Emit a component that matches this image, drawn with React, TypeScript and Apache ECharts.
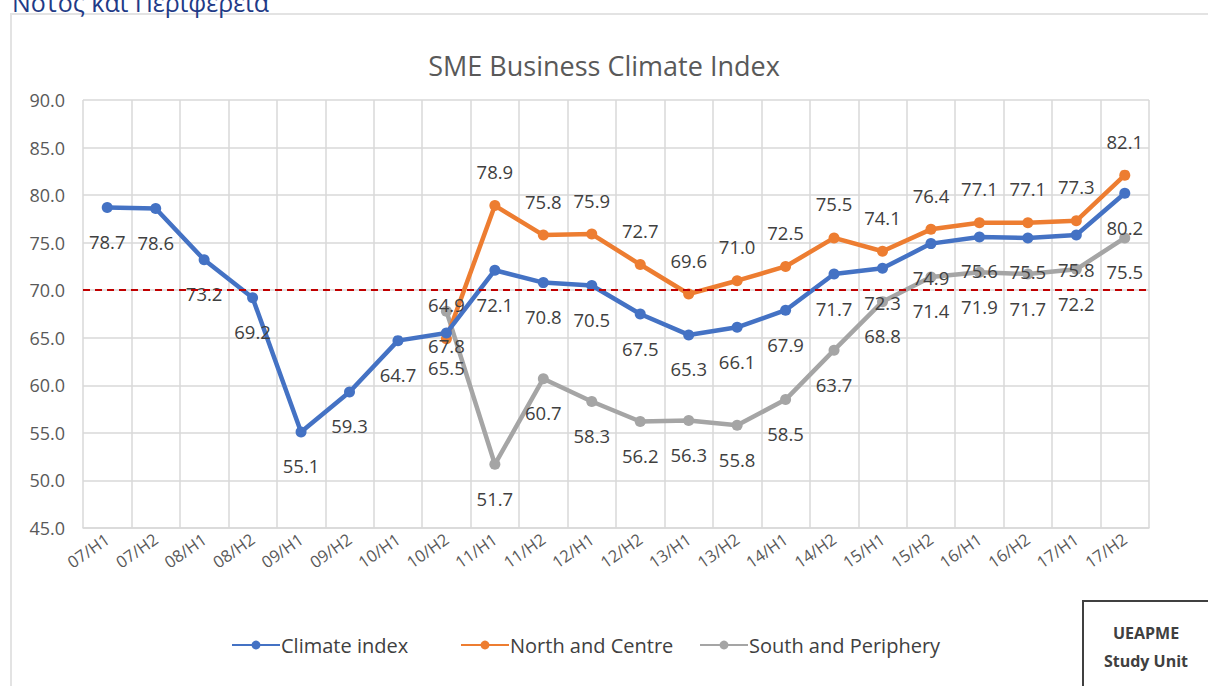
import React, { useEffect, useRef } from "react";
import * as echarts from "echarts";

const categories = ["07/H1","07/H2","08/H1","08/H2","09/H1","09/H2","10/H1","10/H2","11/H1","11/H2","12/H1","12/H2","13/H1","13/H2","14/H1","14/H2","15/H1","15/H2","16/H1","16/H2","17/H1","17/H2"];
const climateIndex = [78.7,78.6,73.2,69.2,55.1,59.3,64.7,65.5,72.1,70.8,70.5,67.5,65.3,66.1,67.9,71.7,72.3,74.9,75.6,75.5,75.8,80.2];
const northCentre = [null,null,null,null,null,null,null,64.9,78.9,75.8,75.9,72.7,69.6,71.0,72.5,75.5,74.1,76.4,77.1,77.1,77.3,82.1];
const southPeriphery = [null,null,null,null,null,null,null,67.8,51.7,60.7,58.3,56.2,56.3,55.8,58.5,63.7,68.8,71.4,71.9,71.7,72.2,75.5];
const seriesNames = ["Climate index", "North and Centre", "South and Periphery"];
const threshold = 70;

const FONT = "'Open Sans', 'Noto Sans', sans-serif";

export default function App() {
  const ref = useRef<HTMLDivElement>(null);
  useEffect(() => {
    if (!ref.current) return;
    const chart = echarts.init(ref.current, null, { renderer: "svg" });
    const lbl = (pos: string) => ({
      show: true,
      position: pos,
      distance: 19,
      fontSize: 18.5,
      fontFamily: FONT,
      color: "#404040",
      formatter: (p: any) => (p.value == null ? "" : Number(p.value).toFixed(1)),
    });
    const mk = (name: string, data: any[], color: string, pos: string, extra: any = {}) => ({
      name,
      type: "line",
      data,
      symbol: "circle",
      symbolSize: 11,
      itemStyle: { color },
      lineStyle: { color, width: 4.5 },
      label: lbl(pos),
      ...extra,
    });
    const legendLefts = [226, 455, 694];
    chart.setOption({
      animation: false,
      backgroundColor: "#ffffff",
      textStyle: { fontFamily: FONT },
      title: {
        text: "SME Business Climate Index",
        left: "center",
        top: 47,
        textStyle: { fontSize: 27, fontWeight: "normal", color: "#595959", fontFamily: FONT },
      },
      grid: { left: 83, right: 59, top: 100, bottom: 158, containLabel: false },
      xAxis: {
        type: "category",
        data: categories,
        boundaryGap: true,
        axisLine: { lineStyle: { color: "#d9d9d9", width: 1.5 } },
        axisTick: { show: false },
        splitLine: { show: true, interval: 0, lineStyle: { color: "#d9d9d9", width: 1.5 } },
        axisLabel: { rotate: 35, interval: 0, margin: 9, fontSize: 16.5, color: "#595959", fontFamily: FONT },
      },
      yAxis: {
        type: "value",
        min: 45,
        max: 90,
        interval: 5,
        axisLine: { show: false },
        axisTick: { show: false },
        splitLine: { lineStyle: { color: "#d9d9d9", width: 1.5 } },
        axisLabel: { fontSize: 18, color: "#595959", margin: 18, fontFamily: FONT, formatter: (v: number) => v.toFixed(1) },
      },
      legend: seriesNames.map((n, i) => ({
        left: legendLefts[i],
        top: 630,
        itemWidth: 48,
        itemHeight: 11,
        textStyle: { fontSize: 20, color: "#404040", fontFamily: FONT, padding: [0, 0, 0, -4] },
        data: [n],
      })),
      series: [
        mk("South and Periphery", southPeriphery, "#A5A5A5", "bottom"),
        mk("North and Centre", northCentre, "#ED7D31", "top"),
        mk("Climate index", climateIndex, "#4472C4", "bottom", {
          markLine: {
            silent: true,
            symbol: "none",
            label: { show: false },
            lineStyle: { color: "#C00000", type: [7, 5], width: 1.8 },
            data: [{ yAxis: threshold }],
          },
        }),
      ],
      graphic: [
        {
          type: "rect",
          shape: { x: 11, y: 14, width: 1220, height: 700 },
          style: { fill: "none", stroke: "#e3e3e3", lineWidth: 2 },
          z: -1,
        },
        {
          type: "text",
          left: 12,
          top: -11,
          style: { text: "Νότος και Περιφέρεια", fontSize: 25, fill: "#1F3B87", fontFamily: FONT },
        },
        {
          type: "rect",
          shape: { x: 1083, y: 601, width: 140, height: 100 },
          style: { fill: "#ffffff", stroke: "#404040", lineWidth: 2 },
          z: 10,
        },
        {
          type: "text",
          x: 1146,
          y: 633,
          style: { text: "UEAPME", fontSize: 16, fontWeight: "bold", fill: "#404040", align: "center", verticalAlign: "middle", fontFamily: FONT },
          z: 11,
        },
        {
          type: "text",
          x: 1146,
          y: 661,
          style: { text: "Study Unit", fontSize: 16, fontWeight: "bold", fill: "#404040", align: "center", verticalAlign: "middle", fontFamily: FONT },
          z: 11,
        },
      ],
    });
    return () => chart.dispose();
  }, []);
  return <div ref={ref} style={{ position: "fixed", left: 0, top: 0, width: 1208, height: 686 }} />;
}
